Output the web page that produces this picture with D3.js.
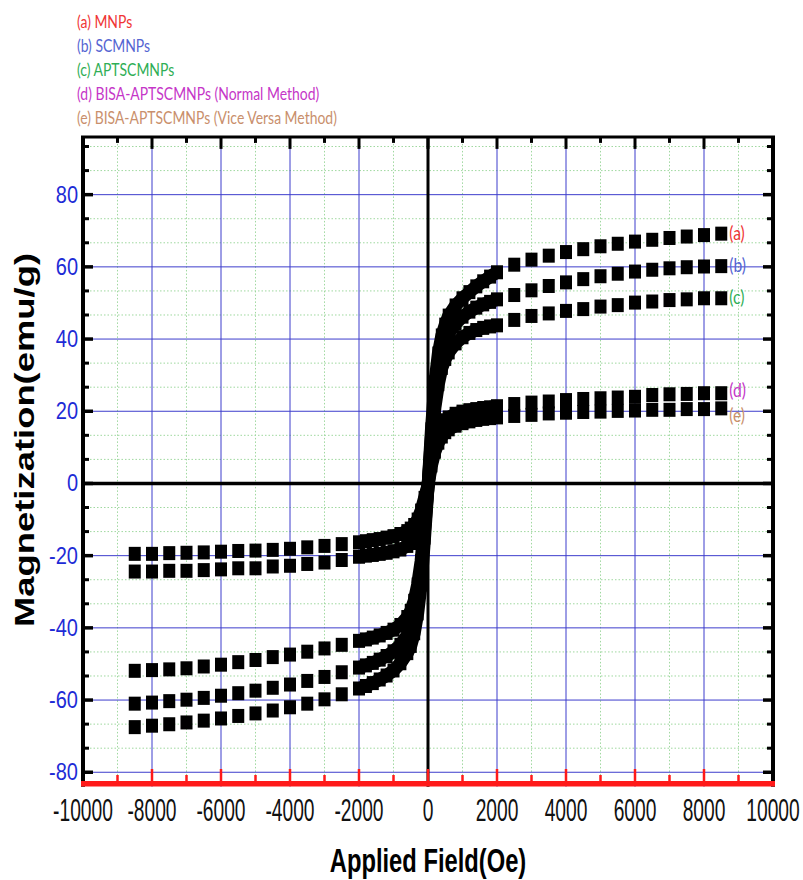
<!DOCTYPE html>
<html>
<head>
<meta charset="utf-8">
<script src="https://cdn.jsdelivr.net/npm/d3@7"></script>
<style>
  body { margin: 0; background: #fff; }
  svg { display: block; }
</style>
</head>
<body>
<div id="chart"></div>
<script>
const W = 803, H = 880

// applied field (Oe) of each measured point: sparse tails, dense centre, sparse tails
const fieldOe = [
  -8500, -8000, -7500, -7000, -6500, -6000, -5500, -5000, -4500, -4000, -3500, -3000, -2500,
  -2000, -1800, -1600, -1400, -1200, -1000, -800, -600, -500, -400, -300, -200, -100,
  0, 100, 200, 300, 400, 500, 600, 800, 1000, 1200, 1400, 1600, 1800, 2000,
  2500, 3000, 3500, 4000, 4500, 5000, 5500, 6000, 6500, 7000, 7500, 8000, 8500
]

// magnetization (emu/g) per sample, same order as fieldOe
const magMNPs = [
  -67.5, -67.1, -66.7, -66.2, -65.7, -65.1, -64.4, -63.7, -62.9, -62.0, -61.0, -59.8, -58.4,
  -56.8, -56.1, -55.3, -54.3, -53.2, -51.8, -49.8, -47.0, -45.0, -41.5, -36.0, -28.0, -15.0,
  -1.0, 15.0, 28.0, 36.0, 41.0, 44.0, 46.5, 49.3, 51.3, 53.0, 54.6, 56.0, 57.3, 58.5,
  60.6, 62.0, 63.1, 64.1, 64.9, 65.7, 66.4, 67.0, 67.5, 68.0, 68.4, 68.8, 69.2
]
const magSCMNPs = [
  -61.0, -60.7, -60.3, -59.9, -59.4, -58.8, -58.1, -57.4, -56.6, -55.7, -54.7, -53.6, -52.3,
  -51.0, -50.4, -49.7, -48.8, -47.8, -46.5, -44.7, -42.0, -40.0, -36.8, -32.0, -24.5, -13.0,
  -1.0, 13.0, 24.5, 31.5, 36.5, 39.5, 41.5, 44.3, 46.2, 47.6, 48.7, 49.6, 50.3, 51.0,
  52.2, 53.5, 54.7, 55.7, 56.6, 57.4, 58.1, 58.7, 59.2, 59.6, 59.9, 60.1, 60.2
]
const magAPTS = [
  -51.9, -51.7, -51.5, -51.2, -50.7, -50.2, -49.5, -48.9, -48.1, -47.4, -46.6, -45.7, -44.7,
  -43.6, -43.2, -42.7, -42.1, -41.4, -40.5, -39.2, -37.0, -35.3, -32.5, -28.0, -21.5, -11.0,
  -1.0, 11.0, 21.0, 27.5, 32.0, 34.5, 36.3, 38.8, 40.5, 41.7, 42.5, 43.1, 43.5, 43.8,
  45.3, 46.4, 47.1, 47.8, 48.3, 49.0, 49.4, 50.1, 50.4, 50.8, 51.0, 51.3, 51.3
]
const magBisaNormal = [
  -24.4, -24.4, -24.2, -24.2, -24.0, -23.8, -23.5, -23.5, -23.0, -22.8, -22.3, -21.9, -21.2,
  -20.3, -20.0, -19.8, -19.5, -19.2, -18.8, -18.3, -17.3, -16.5, -15.3, -13.5, -10.5, -5.5,
  -0.5, 6.5, 11.5, 14.5, 16.3, 17.5, 18.3, 19.3, 19.9, 20.3, 20.6, 20.9, 21.1, 21.4,
  22.0, 22.4, 22.7, 23.1, 23.4, 23.6, 23.8, 24.0, 24.5, 24.7, 24.8, 25.0, 25.0
]
const magBisaVice = [
  -19.5, -19.5, -19.3, -19.2, -19.1, -18.9, -18.7, -18.6, -18.4, -18.1, -17.7, -17.3, -16.8,
  -16.3, -16.0, -15.7, -15.4, -15.0, -14.6, -14.0, -13.2, -12.5, -11.5, -10.0, -7.5, -4.0,
  -0.5, 5.0, 8.8, 11.3, 13.0, 14.2, 15.0, 16.0, 16.7, 17.2, 17.6, 17.9, 18.1, 18.3,
  18.7, 19.0, 19.4, 19.6, 19.8, 19.9, 20.1, 20.2, 20.4, 20.4, 20.6, 20.6, 20.8
]

const seriesKeys = ["(a)", "(b)", "(c)", "(d)", "(e)"]
const seriesNames = ["MNPs", "SCMNPs", "APTSCMNPs", "BISA-APTSCMNPs (Normal Method)", "BISA-APTSCMNPs (Vice Versa Method)"]
const seriesColors = ["#f03535", "#5565d2", "#2fae55", "#c536c8", "#c98f6c"]
const allMag = [magMNPs, magSCMNPs, magAPTS, magBisaNormal, magBisaVice]

const xTicks = [-10000, -8000, -6000, -4000, -2000, 0, 2000, 4000, 6000, 8000, 10000]
const yTicks = [-80, -60, -40, -20, 0, 20, 40, 60, 80]

const x = d3.scaleLinear().domain([-10000, 10000]).range([83, 773])
const y = d3.scaleLinear().domain([-84, 96]).range([786.7, 136.9])

const svg = d3.select("#chart").append("svg")
  .attr("width", W).attr("height", H)
  .style("font-family", "'Liberation Sans', Arial, sans-serif")

const minorX = d3.range(-9000, 10000, 1000).filter(d => d % 2000 !== 0)
const minorY = d3.range(-12, 15).filter(k => k % 3 !== 0).map(k => k * 20 / 3)
const yTop = y.range()[1], yBot = y.range()[0]
const xL = x.range()[0], xR = x.range()[1]

// dotted green minor grid
const grid = svg.append("g")
grid.selectAll(".gvx").data(minorX).enter().append("line")
  .attr("x1", d => x(d)).attr("x2", d => x(d)).attr("y1", yTop).attr("y2", yBot)
  .attr("stroke", "#9fd89f").attr("stroke-dasharray", "1.5,2")
grid.selectAll(".gvy").data(minorY).enter().append("line")
  .attr("y1", d => y(d)).attr("y2", d => y(d)).attr("x1", xL).attr("x2", xR)
  .attr("stroke", "#9fd89f").attr("stroke-dasharray", "1.5,2")

// blue major grid
grid.selectAll(".bx").data(xTicks.filter(d => d !== 0 && Math.abs(d) !== 10000)).enter().append("line")
  .attr("x1", d => x(d)).attr("x2", d => x(d)).attr("y1", yTop).attr("y2", yBot)
  .attr("stroke", "#3d3dcc").attr("stroke-width", 1)
grid.selectAll(".by").data(yTicks.filter(d => d !== 0)).enter().append("line")
  .attr("y1", d => y(d)).attr("y2", d => y(d)).attr("x1", xL).attr("x2", xR)
  .attr("stroke", "#3d3dcc").attr("stroke-width", 1)

// zero lines
svg.append("line").attr("x1", x(0)).attr("x2", x(0)).attr("y1", yTop).attr("y2", yBot)
  .attr("stroke", "#000").attr("stroke-width", 3)
svg.append("line").attr("x1", xL).attr("x2", xR).attr("y1", y(0)).attr("y2", y(0))
  .attr("stroke", "#000").attr("stroke-width", 3.5)

// data
const line = d3.line().x(d => x(d[0])).y(d => y(d[1]))
allMag.forEach(mag => {
  const pts = fieldOe.map((f, i) => [f, mag[i]])
  const dense = pts.filter(p => Math.abs(p[0]) <= 2000)
  svg.append("path").datum(dense)
    .attr("d", line)
    .attr("fill", "none").attr("stroke", "#000")
    .attr("stroke-width", 13).attr("stroke-linejoin", "round")
  svg.append("g").selectAll("rect").data(pts).enter().append("rect")
    .attr("x", d => x(d[0]) - 6).attr("y", d => y(d[1]) - 7)
    .attr("width", 12).attr("height", 14).attr("fill", "#000")
})

// frame
svg.append("line").attr("x1", xL - 2).attr("x2", xR + 2).attr("y1", yTop).attr("y2", yTop)
  .attr("stroke", "#000").attr("stroke-width", 3)
svg.append("line").attr("x1", xL).attr("x2", xL).attr("y1", yTop).attr("y2", yBot)
  .attr("stroke", "#000").attr("stroke-width", 4)
svg.append("line").attr("x1", xR).attr("x2", xR).attr("y1", yTop).attr("y2", yBot)
  .attr("stroke", "#000").attr("stroke-width", 4)

// ticks: left/right (inward), top (down), bottom red (up)
const tk = svg.append("g")
tk.selectAll(".lm").data(yTicks).enter().append("line")
  .attr("x1", xL).attr("x2", xL + 10).attr("y1", d => y(d)).attr("y2", d => y(d))
  .attr("stroke", "#000").attr("stroke-width", 3.5)
tk.selectAll(".ln").data(minorY).enter().append("line")
  .attr("x1", xL).attr("x2", xL + 6).attr("y1", d => y(d)).attr("y2", d => y(d))
  .attr("stroke", "#000").attr("stroke-width", 3)
tk.selectAll(".rm").data(yTicks).enter().append("line")
  .attr("x1", xR).attr("x2", xR - 10).attr("y1", d => y(d)).attr("y2", d => y(d))
  .attr("stroke", "#000").attr("stroke-width", 3.5)
tk.selectAll(".rn").data(minorY).enter().append("line")
  .attr("x1", xR).attr("x2", xR - 6).attr("y1", d => y(d)).attr("y2", d => y(d))
  .attr("stroke", "#000").attr("stroke-width", 3)
tk.selectAll(".tm").data(xTicks.filter(d => Math.abs(d) !== 10000)).enter().append("line")
  .attr("x1", d => x(d)).attr("x2", d => x(d)).attr("y1", yTop).attr("y2", yTop + 12)
  .attr("stroke", "#000").attr("stroke-width", 3)
tk.selectAll(".tn").data(minorX).enter().append("line")
  .attr("x1", d => x(d)).attr("x2", d => x(d)).attr("y1", yTop).attr("y2", yTop + 6)
  .attr("stroke", "#000").attr("stroke-width", 3)

// red bottom axis
svg.append("rect").attr("x", xL - 2).attr("y", 781).attr("width", xR - xL + 4).attr("height", 5.5)
  .attr("fill", "#ff1a1a")
tk.selectAll(".bm").data(xTicks.filter(d => Math.abs(d) !== 10000)).enter().append("line")
  .attr("x1", d => x(d)).attr("x2", d => x(d)).attr("y1", 782).attr("y2", 769)
  .attr("stroke", "#ff1a1a").attr("stroke-width", 2.5)
tk.selectAll(".bn").data(minorX).enter().append("line")
  .attr("x1", d => x(d)).attr("x2", d => x(d)).attr("y1", 782).attr("y2", 775)
  .attr("stroke", "#ff1a1a").attr("stroke-width", 2.5)

// tick labels
svg.append("g").selectAll("text").data(xTicks).enter().append("text")
  .attr("transform", d => `translate(${x(d)},821) scale(0.8,1.32)`)
  .attr("text-anchor", "middle").attr("font-size", 24).attr("fill", "#111")
  .text(d => d)
svg.append("g").selectAll("text").data(yTicks).enter().append("text")
  .attr("transform", d => `translate(78,${y(d) + 8}) scale(1,1.15)`)
  .attr("text-anchor", "end").attr("font-size", 20).attr("fill", "#1d2bd6")
  .text(d => d)

// axis titles
svg.append("text")
  .attr("transform", `translate(${x(0)},872) scale(0.95,1.3)`)
  .attr("text-anchor", "middle").attr("font-size", 25).attr("font-weight", "bold")
  .text("Applied Field(Oe)")
svg.append("text")
  .attr("transform", "translate(34,440) rotate(-90) scale(1.3,1)")
  .attr("text-anchor", "middle").attr("font-size", 28).attr("font-weight", "bold")
  .text("Magnetization(emu/g)")

// legend
svg.append("g").selectAll("text").data(seriesKeys).enter().append("text")
  .attr("transform", (d, i) => `translate(77,${28 + i * 24}) scale(0.93,1.15)`)
  .attr("font-family", "Lato, 'Open Sans', sans-serif").attr("font-size", 15)
  .attr("fill", (d, i) => seriesColors[i])
  .text((d, i) => d + " " + seriesNames[i])

// end labels next to last point of each sample
const lastIdx = fieldOe.length - 1
const labelShift = [0, 0, 0, -2, 8]
svg.append("g").selectAll("text").data(seriesKeys).enter().append("text")
  .attr("transform", (d, i) => `translate(${x(fieldOe[lastIdx]) + 8},${y(allMag[i][lastIdx]) + 6 + labelShift[i]}) scale(0.92,1.15)`)
  .attr("font-family", "Lato, 'Open Sans', sans-serif").attr("font-size", 17)
  .attr("fill", (d, i) => seriesColors[i])
  .text(d => d)
</script>
</body>
</html>
